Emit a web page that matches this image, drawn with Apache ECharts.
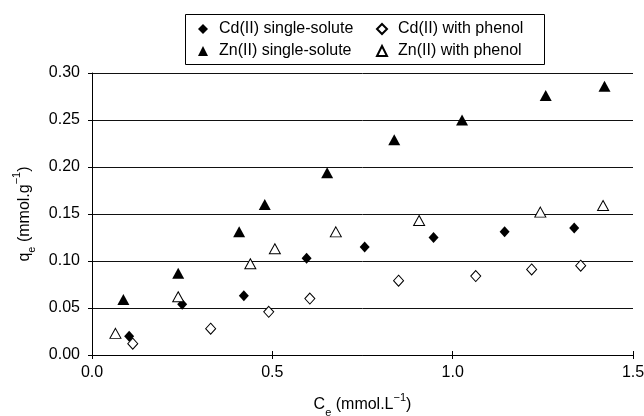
<!DOCTYPE html>
<html><head><meta charset="utf-8">
<script src="https://cdn.jsdelivr.net/npm/echarts@6/dist/echarts.min.js"></script>
<style>html,body{margin:0;padding:0;background:#fff}#c{width:644px;height:416px}</style>
</head><body><div id="c"></div>
<script>
const seriesNames = ['Cd(II) single-solute', 'Cd(II) with phenol', 'Zn(II) single-solute', 'Zn(II) with phenol'];
const cdSingleX = [0.103, 0.25, 0.421, 0.595, 0.756, 0.947, 1.144, 1.337];
const cdSingleY = [0.020, 0.054, 0.063, 0.103, 0.115, 0.125, 0.131, 0.135];
const cdPhenolX = [0.113, 0.329, 0.49, 0.604, 0.850, 1.064, 1.219, 1.355];
const cdPhenolY = [0.012, 0.028, 0.046, 0.060, 0.079, 0.084, 0.091, 0.095];
const znSingleX = [0.087, 0.239, 0.408, 0.479, 0.652, 0.838, 1.026, 1.258, 1.421];
const znSingleY = [0.059, 0.087, 0.131, 0.160, 0.194, 0.229, 0.250, 0.276, 0.286];
const znPhenolX = [0.065, 0.239, 0.439, 0.507, 0.676, 0.907, 1.243, 1.417];
const znPhenolY = [0.023, 0.062, 0.097, 0.113, 0.131, 0.143, 0.152, 0.159];
const xTicks = [0, 0.5, 1.0, 1.5];
const yTicks = [0, 0.05, 0.10, 0.15, 0.20, 0.25, 0.30];

function pairs(xs, ys) { return xs.map((x, i) => [x, ys[i]]); }
const FONT = '"Liberation Sans", Arial, sans-serif';
const rich = {
  a: { fontSize: 16, fontFamily: FONT, color: '#000', lineHeight: 26, verticalAlign: 'middle' },
  sub: { fontSize: 11, fontFamily: FONT, color: '#000', lineHeight: 11, verticalAlign: 'bottom' },
  sup: { fontSize: 11, fontFamily: FONT, color: '#000', lineHeight: 11, verticalAlign: 'top' }
};
function leg(name, left, top) {
  return {
    data: [name], left: left, top: top, padding: 0, orient: 'horizontal',
    itemWidth: 10, itemHeight: 10,
    textStyle: { fontSize: 16, color: '#000', padding: [0, 0, 0, 6], fontFamily: FONT }
  };
}
const chart = echarts.init(document.getElementById('c'), null, { renderer: 'canvas' });
chart.setOption({
  animation: false,
  backgroundColor: '#fff',
  textStyle: { fontFamily: FONT },
  grid: { left: 92, right: 11, top: 73, bottom: 61, outerBoundsMode: 'none', containLabel: false },
  graphic: [{ type: 'rect', left: 183, top: 12, z: 10,
    shape: { width: 359, height: 50 },
    style: { fill: 'none', stroke: '#000', lineWidth: 1 } }],
  legend: [
    leg(seriesNames[0], 198, 21),
    leg(seriesNames[1], 376, 21),
    leg(seriesNames[2], 198, 43),
    leg(seriesNames[3], 376, 43)
  ],
  xAxis: [{
    type: 'value', min: xTicks[0], max: xTicks[xTicks.length - 1], interval: 0.5,
    name: '{a|C}{sub|e}{a| (mmol.L}{sup|−1}{a|)}',
    nameLocation: 'middle', nameGap: 37,
    nameTextStyle: { rich: rich },
    axisLine: { show: true, onZero: false, lineStyle: { color: '#000', width: 1 } },
    axisTick: { show: true, inside: false, length: 4, lineStyle: { color: '#000' } },
    axisLabel: { fontSize: 16, color: '#000', margin: 10, fontFamily: FONT, formatter: v => v.toFixed(1) },
    splitLine: { show: false }
  }, {
    type: 'value', min: xTicks[0], max: xTicks[xTicks.length - 1], interval: 0.5,
    position: 'bottom', gridIndex: 0,
    axisLine: { show: false },
    axisTick: { show: true, inside: true, length: 4, lineStyle: { color: '#000' } },
    axisLabel: { show: false },
    splitLine: { show: false }
  }],
  yAxis: {
    type: 'value', min: yTicks[0], max: yTicks[yTicks.length - 1], interval: 0.05,
    name: '{a|q}{sub|e}{a| (mmol.g}{sup|−1}{a|)}',
    nameLocation: 'middle', nameGap: 52, nameRotate: 90,
    nameTextStyle: { rich: rich },
    axisLine: { show: true, lineStyle: { color: '#000', width: 1 } },
    axisTick: { show: true, length: 4, lineStyle: { color: '#000' } },
    axisLabel: { fontSize: 16, color: '#000', margin: 12, fontFamily: FONT, formatter: v => v.toFixed(2) },
    splitLine: { show: true, lineStyle: { color: '#111', width: 1 } }
  },
  series: [
    { name: seriesNames[0], type: 'scatter', symbol: 'diamond', symbolSize: [10, 11],
      itemStyle: { color: '#000', borderColor: '#000', borderWidth: 0, opacity: 1 }, data: pairs(cdSingleX, cdSingleY), z: 3 },
    { name: seriesNames[1], type: 'scatter', symbol: 'diamond', symbolSize: [10, 11],
      itemStyle: { color: '#fff', borderColor: '#000', borderWidth: 1, opacity: 1 }, data: pairs(cdPhenolX, cdPhenolY), z: 3 },
    { name: seriesNames[2], type: 'scatter', symbol: 'triangle', symbolSize: [12, 11],
      itemStyle: { color: '#000', borderColor: '#000', borderWidth: 0, opacity: 1 }, data: pairs(znSingleX, znSingleY), z: 3 },
    { name: seriesNames[3], type: 'scatter', symbol: 'triangle', symbolSize: [11, 10],
      itemStyle: { color: '#fff', borderColor: '#000', borderWidth: 1, opacity: 1 }, data: pairs(znPhenolX, znPhenolY), z: 3 }
  ]
});
</script></body></html>
